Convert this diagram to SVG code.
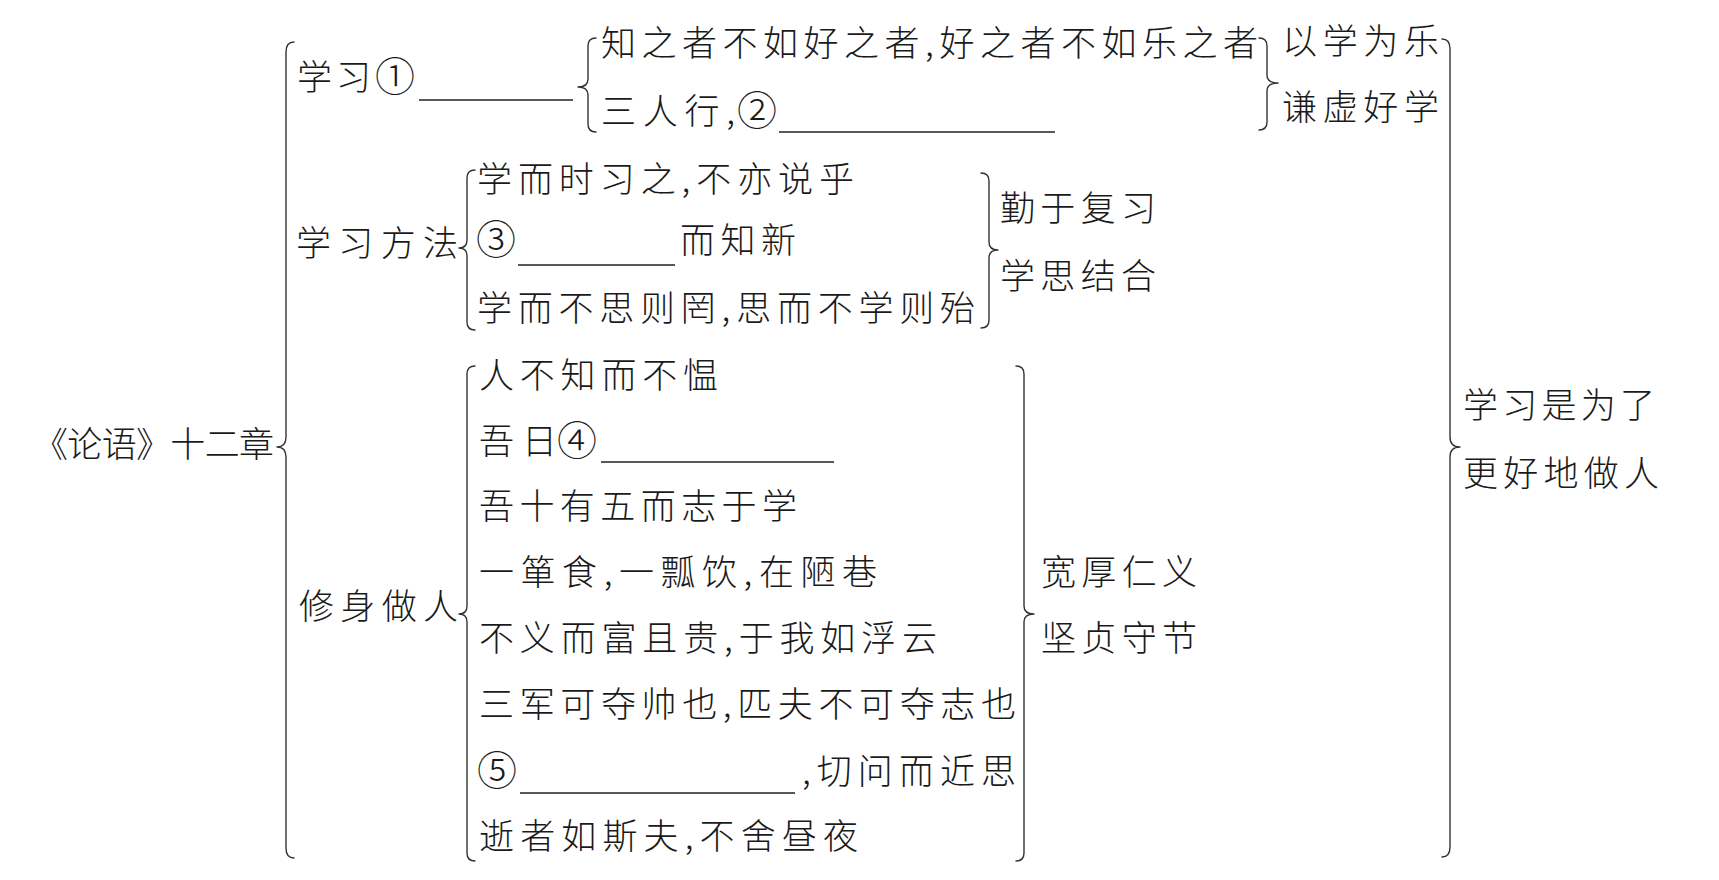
<svg xmlns="http://www.w3.org/2000/svg" width="1719" height="880" viewBox="0 0 1719 880">
<style>
text{font-family:"Noto Sans CJK SC","Noto Sans",sans-serif;font-size:35px;font-weight:300;fill:#1a1a1a;}
.c{font-size:40px;text-anchor:middle;}
.br{fill:none;stroke:#333;stroke-width:1.4;stroke-linecap:round;stroke-linejoin:round;}
.ul{stroke:#222;stroke-width:1.6;}
</style>
<rect width="1719" height="880" fill="#fff"/>
<g id="connectors">
<path class="br" d="M294,42 Q286,42 286,52 L286,437 Q286,447 277,447 Q286,447 286,457 L286,848 Q286,858 294,858"/>
<path class="br" d="M596,38 Q588,38 588,46 L588,79 Q588,87 578,87 Q588,87 588,95 L588,124 Q588,132 596,132"/>
<path class="br" d="M1259,38 Q1267,38 1267,46 L1267,75 Q1267,83 1278,83 Q1267,83 1267,91 L1267,122 Q1267,130 1259,130"/>
<path class="br" d="M475,170 Q467,170 467,178 L467,240 Q467,248 459,248 Q467,248 467,256 L467,322 Q467,330 475,330"/>
<path class="br" d="M981,173 Q989,173 989,181 L989,242 Q989,250 998,250 Q989,250 989,258 L989,320 Q989,328 981,328"/>
<path class="br" d="M475,366 Q467,366 467,374 L467,606 Q467,614 459,614 Q467,614 467,622 L467,853 Q467,861 475,861"/>
<path class="br" d="M1016,366 Q1024,366 1024,374 L1024,606 Q1024,614 1034,614 Q1024,614 1024,622 L1024,853 Q1024,861 1016,861"/>
<path class="br" d="M1442,39 Q1450,39 1450,49 L1450,437 Q1450,447 1460,447 Q1450,447 1450,457 L1450,847 Q1450,857 1442,857"/>
<line class="ul" x1="419" y1="100" x2="573" y2="100"/>
<line class="ul" x1="779" y1="132" x2="1055" y2="132"/>
<line class="ul" x1="518" y1="265" x2="675" y2="265"/>
<line class="ul" x1="601" y1="462" x2="834" y2="462"/>
<line class="ul" x1="520" y1="793" x2="795" y2="793"/>
</g>
<g id="root"><text x="33" y="457" textLength="241" lengthAdjust="spacing">《论语》十二章</text></g>
<g id="study">
<text x="297" y="90" textLength="74" lengthAdjust="spacing">学习</text>
<text class="c" x="395" y="91">①</text>
</g>
<g id="study-quotes">
<text x="601" y="56" textLength="657" lengthAdjust="spacing">知之者不如好之者,好之者不如乐之者</text>
<text x="601" y="124" textLength="134" lengthAdjust="spacing">三人行,</text>
<text class="c" x="757" y="125">②</text>
</g>
<g id="study-themes">
<text x="1282" y="54" textLength="157" lengthAdjust="spacing">以学为乐</text>
<text x="1282" y="120" textLength="157" lengthAdjust="spacing">谦虚好学</text>
</g>
<g id="method">
<text x="296" y="256" textLength="162" lengthAdjust="spacing">学习方法</text>
</g>
<g id="method-quotes">
<text x="477" y="192" textLength="377" lengthAdjust="spacing">学而时习之,不亦说乎</text>
<text class="c" x="496" y="254">③</text>
<text x="680" y="253" textLength="116" lengthAdjust="spacing">而知新</text>
<text x="477" y="321" textLength="498" lengthAdjust="spacing">学而不思则罔,思而不学则殆</text>
</g>
<g id="method-themes">
<text x="1000" y="221" textLength="156" lengthAdjust="spacing">勤于复习</text>
<text x="1000" y="289" textLength="156" lengthAdjust="spacing">学思结合</text>
</g>
<g id="conduct">
<text x="299" y="619" textLength="159" lengthAdjust="spacing">修身做人</text>
</g>
<g id="conduct-quotes">
<text x="479" y="388" textLength="239" lengthAdjust="spacing">人不知而不愠</text>
<text x="479" y="454" textLength="78" lengthAdjust="spacing">吾日</text>
<text class="c" x="577" y="455">④</text>
<text x="479" y="519" textLength="318" lengthAdjust="spacing">吾十有五而志于学</text>
<text x="479" y="585" textLength="398" lengthAdjust="spacing">一箪食,一瓢饮,在陋巷</text>
<text x="479" y="651" textLength="458" lengthAdjust="spacing">不义而富且贵,于我如浮云</text>
<text x="479" y="717" textLength="537" lengthAdjust="spacing">三军可夺帅也,匹夫不可夺志也</text>
<text class="c" x="497" y="785">⑤</text>
<text x="802" y="784" textLength="214" lengthAdjust="spacing">,切问而近思</text>
<text x="479" y="849" textLength="379" lengthAdjust="spacing">逝者如斯夫,不舍昼夜</text>
</g>
<g id="conduct-themes">
<text x="1041" y="585" textLength="156" lengthAdjust="spacing">宽厚仁义</text>
<text x="1041" y="651" textLength="156" lengthAdjust="spacing">坚贞守节</text>
</g>
<g id="conclusion">
<text x="1463" y="418" textLength="192" lengthAdjust="spacing">学习是为了</text>
<text x="1463" y="486" textLength="196" lengthAdjust="spacing">更好地做人</text>
</g>
</svg>
